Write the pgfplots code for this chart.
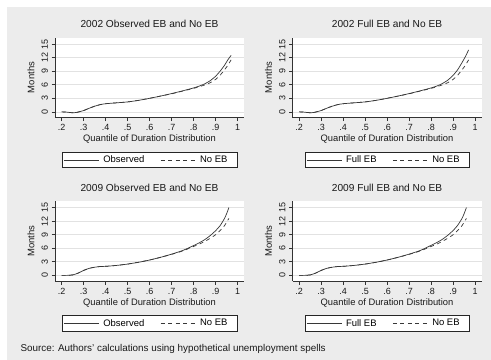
\documentclass[border=0pt]{standalone}
\usepackage{pgfplots}
\usepackage{pgfplotstable}
\pgfplotsset{compat=1.18}
\usepackage{fontspec}
\setmainfont{Liberation Sans}
\definecolor{bggray}{RGB}{236,236,236}
\definecolor{gridgray}{RGB}{226,226,226}
\definecolor{linegray}{RGB}{55,55,55}

\pgfplotstableread{
q obs noeb full
0.20 0 0 0
0.22 -0.05 -0.05 -0.05
0.25 -0.2 -0.2 -0.2
0.27 -0.1 -0.1 -0.1
0.30 0.3 0.3 0.3
0.325 0.8 0.8 0.8
0.35 1.25 1.25 1.25
0.375 1.6 1.6 1.6
0.40 1.8 1.8 1.8
0.45 2.0 2.0 2.0
0.50 2.2 2.2 2.2
0.55 2.55 2.55 2.55
0.60 3.0 3.0 3.0
0.65 3.5 3.5 3.5
0.70 4.05 4.0 4.05
0.75 4.65 4.6 4.65
0.80 5.3 5.2 5.3
0.825 5.7 5.55 5.7
0.85 6.2 5.95 6.25
0.875 6.9 6.45 7.0
0.90 7.9 7.2 8.1
0.92 9.0 8.1 9.3
0.94 10.3 9.3 10.9
0.955 11.5 10.3 12.2
0.97 12.5 11.5 13.7
}\datatwo

\pgfplotstableread{
q obs noeb full
0.20 0 0 0
0.225 0 0 0
0.25 0.1 0.1 0.1
0.275 0.5 0.5 0.5
0.30 1.1 1.1 1.1
0.325 1.55 1.55 1.55
0.35 1.8 1.8 1.8
0.375 1.95 1.95 1.95
0.40 2.0 2.0 2.0
0.45 2.2 2.2 2.2
0.50 2.5 2.5 2.5
0.55 2.9 2.9 2.9
0.60 3.4 3.4 3.4
0.65 4.0 4.0 4.0
0.70 4.7 4.65 4.7
0.75 5.5 5.4 5.5
0.80 6.6 6.4 6.65
0.825 7.2 6.9 7.25
0.85 7.9 7.5 7.95
0.875 8.8 8.2 8.85
0.90 9.9 9.0 9.95
0.92 11.0 9.9 11.05
0.94 12.6 11.0 12.6
0.95 13.7 11.8 13.7
0.96 15.0 12.6 15.0
}\datanine

\pgfplotsset{
  panel/.style={
    scale only axis, width=189bp, height=80bp,
    xmin=0.1695, xmax=1.0286, ymin=-1.25, ymax=16.45,
    axis x line*=bottom, axis y line*=left,
    axis line style={-, line width=0.6bp, black!80},
    xtick={0.2,0.3,0.4,0.5,0.6,0.7,0.8,0.9,1.0},
    xticklabels={.2,.3,.4,.5,.6,.7,.8,.9,1},
    ytick={0,3,6,9,12,15},
    /pgf/number format/assume math mode=true,
    tick label style={font=\fontsize{9}{10}\selectfont, black!90},
    yticklabel style={rotate=90, anchor=south},
    tick align=outside, major tick length=3.5bp,
    tick style={line width=0.6bp, black!80},
    ymajorgrids, grid style={gridgray, line width=0.7bp},
    axis background/.style={fill=white},
    title style={at={(axis description cs:0.5,1.049)}, anchor=base, font=\fontsize{10.2}{12}\selectfont, black!90},
    xlabel={Quantile of Duration Distribution},
    ylabel={Months},
    xlabel style={at={(axis description cs:0.5,-0.30)}, anchor=base, font=\fontsize{9.4}{11}\selectfont, black!90},
    ylabel style={at={(axis description cs:-0.1085,0.5)}, anchor=base, rotate=0, font=\fontsize{9.5}{11}\selectfont, black!90},
    legend style={at={(axis description cs:0.5,-0.431)}, anchor=north, legend columns=2,
      draw=black!85, line width=0.6bp, fill=white, font=\fontsize{9.5}{11}\selectfont,
      inner xsep=1.5bp, inner ysep=1bp, nodes={inner ysep=2.4bp, inner xsep=4bp},
      column sep=0bp},
    legend cell align=left,
    legend image code/.code={\draw[#1] (0bp,0bp) -- (35bp,0bp);},
  },
  solidl/.style={linegray, line width=0.7bp, smooth, tension=0.4},
  dashl/.style={linegray, line width=0.7bp, dash pattern=on 4bp off 3.5bp, smooth, tension=0.4},
}

\begin{document}
\begin{tikzpicture}
\useasboundingbox (0,0) rectangle (491bp,-360bp);
\fill[bggray] (7bp,-7bp) rectangle (491bp,-360bp);

\begin{axis}[panel, at={(55bp,-117.5bp)}, anchor=south west, title={2002 Observed EB and No EB}]
\addplot[solidl] table[x=q, y=obs] {\datatwo};
\addplot[dashl] table[x=q, y=noeb] {\datatwo};
\legend{Observed\hspace*{12bp}, No EB\hspace*{4bp}}
\end{axis}

\begin{axis}[panel, at={(292.5bp,-117.5bp)}, anchor=south west, title={2002 Full EB and No EB}]
\addplot[solidl] table[x=q, y=full] {\datatwo};
\addplot[dashl] table[x=q, y=noeb] {\datatwo};
\legend{Full EB\hspace*{12bp}, No EB\hspace*{4bp}}
\end{axis}

\begin{axis}[panel, at={(55bp,-281bp)}, anchor=south west, title={2009 Observed EB and No EB}]
\addplot[solidl] table[x=q, y=obs] {\datanine};
\addplot[dashl] table[x=q, y=noeb] {\datanine};
\legend{Observed\hspace*{12bp}, No EB\hspace*{4bp}}
\end{axis}

\begin{axis}[panel, at={(292.5bp,-281bp)}, anchor=south west, title={2009 Full EB and No EB}]
\addplot[solidl] table[x=q, y=full] {\datanine};
\addplot[dashl] table[x=q, y=noeb] {\datanine};
\legend{Full EB\hspace*{12bp}, No EB\hspace*{4bp}}
\end{axis}

\node[anchor=base west, font=\fontsize{9.9}{12}\selectfont, black!90] at (17bp,-351.5bp) {Source: Authors' calculations using hypothetical unemployment spells};
\end{tikzpicture}
\end{document}
